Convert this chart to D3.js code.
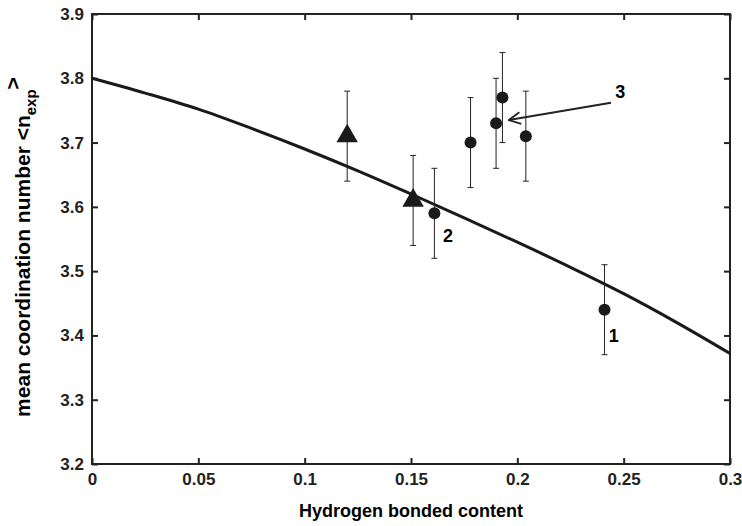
<!DOCTYPE html>
<html><head><meta charset="utf-8">
<script src="https://cdn.jsdelivr.net/npm/d3@7"></script>
<style>body{margin:0;background:#fff}text{font-family:"Liberation Sans",Arial,sans-serif;font-weight:bold}</style>
</head><body>
<svg id="c" width="742" height="526"></svg>
<script>
"use strict";
var xTicks = [0, 0.05, 0.1, 0.15, 0.2, 0.25, 0.3];
var yTicks = [3.2, 3.3, 3.4, 3.5, 3.6, 3.7, 3.8, 3.9];
var curveX = [0, 0.025, 0.05, 0.075, 0.1, 0.125, 0.15, 0.175, 0.2, 0.225, 0.25, 0.275, 0.3];
var curveY = [3.80, 3.777, 3.752, 3.722, 3.69, 3.656, 3.62, 3.583, 3.545, 3.506, 3.465, 3.42, 3.372];
var triX = [0.12, 0.151];
var triY = [3.71, 3.61];
var triErr = [0.07, 0.07];
var dotX = [0.161, 0.178, 0.19, 0.193, 0.204, 0.241];
var dotY = [3.59, 3.70, 3.73, 3.77, 3.71, 3.44];
var dotErr = [0.07, 0.07, 0.07, 0.07, 0.07, 0.07];
var labels = [{t: "1", x: 0.243, y: 3.39}, {t: "2", x: 0.165, y: 3.545}, {t: "3", x: 0.246, y: 3.77}];

var m = {l: 92, r: 12, t: 14, b: 62};
var svg = d3.select("#c");
var W = 742, H = 526;
var x = d3.scaleLinear().domain([0, 0.3]).range([m.l, W - m.r]);
var y = d3.scaleLinear().domain([3.2, 3.9]).range([H - m.b, m.t]);

svg.append("rect").attr("x", m.l).attr("y", m.t).attr("width", W - m.r - m.l).attr("height", H - m.b - m.t)
  .attr("fill", "none").attr("stroke", "#222").attr("stroke-width", 2);

var fmt = function(d) { return d === 0 ? "0" : String(+d.toFixed(2)); };
svg.append("g").attr("transform", "translate(0," + (H - m.b) + ")")
  .call(d3.axisBottom(x).tickValues(xTicks).tickFormat(fmt).tickSize(-6).tickPadding(9))
  .call(function(g) { g.select(".domain").remove(); });
svg.append("g").attr("transform", "translate(0," + m.t + ")")
  .call(d3.axisTop(x).tickValues(xTicks).tickFormat("").tickSize(-6))
  .call(function(g) { g.select(".domain").remove(); });
svg.append("g").attr("transform", "translate(" + m.l + ",0)")
  .call(d3.axisLeft(y).tickValues(yTicks).tickFormat(d3.format(".1f")).tickSize(-6).tickPadding(8))
  .call(function(g) { g.select(".domain").remove(); });
svg.append("g").attr("transform", "translate(" + (W - m.r) + ",0)")
  .call(d3.axisRight(y).tickValues(yTicks).tickFormat("").tickSize(-6))
  .call(function(g) { g.select(".domain").remove(); });
svg.selectAll(".tick line").attr("stroke", "#222").attr("stroke-width", 2);
svg.selectAll(".tick text").attr("font-size", 17).attr("fill", "#222");

svg.append("text").attr("x", (m.l + W - m.r) / 2).attr("y", 517).attr("text-anchor", "middle")
  .attr("font-size", 18).text("Hydrogen bonded content");
var yl = svg.append("text").attr("transform", "translate(30," + ((m.t + H - m.b) / 2 + 8) + ") rotate(-90)")
  .attr("text-anchor", "middle").attr("font-size", 21);
yl.append("tspan").text("mean coordination number <n");
yl.append("tspan").attr("font-size", 15).attr("dy", 6).text("exp");
yl.append("tspan").attr("dy", -16).text(">");

var line = d3.line().x(function(d, i) { return x(curveX[i]); }).y(function(d) { return y(d); }).curve(d3.curveMonotoneX);
svg.append("path").datum(curveY).attr("d", line).attr("fill", "none").attr("stroke", "#1a1a1a").attr("stroke-width", 3);

function errBars(xs, ys, es) {
  xs.forEach(function(v, i) {
    var g = svg.append("g").attr("stroke", "#222").attr("stroke-width", 1);
    g.append("line").attr("x1", x(v)).attr("x2", x(v)).attr("y1", y(ys[i] - es[i])).attr("y2", y(ys[i] + es[i]));
    [ys[i] - es[i], ys[i] + es[i]].forEach(function(e) {
      g.append("line").attr("x1", x(v) - 3).attr("x2", x(v) + 3).attr("y1", y(e)).attr("y2", y(e));
    });
  });
}
errBars(triX, triY, triErr);
errBars(dotX, dotY, dotErr);

svg.selectAll(".dot").data(dotX).enter().append("circle")
  .attr("cx", function(d) { return x(d); }).attr("cy", function(d, i) { return y(dotY[i]); })
  .attr("r", 6).attr("fill", "#1a1a1a");
svg.selectAll(".tri").data(triX).enter().append("path")
  .attr("d", d3.symbol().type(d3.symbolTriangle).size(200))
  .attr("transform", function(d, i) { return "translate(" + x(d) + "," + y(triY[i]) + ")"; })
  .attr("fill", "#1a1a1a");

labels.forEach(function(l) {
  svg.append("text").attr("x", x(l.x)).attr("y", y(l.y)).attr("font-size", 18).text(l.t);
});

svg.append("defs").append("marker").attr("id", "ah").attr("viewBox", "0 0 12 12").attr("refX", 11).attr("refY", 6)
  .attr("markerWidth", 14).attr("markerHeight", 14).attr("markerUnits", "userSpaceOnUse").attr("orient", "auto")
  .append("path").attr("d", "M1,1 L11,6 L1,11").attr("fill", "none").attr("stroke", "#222").attr("stroke-width", 1.6);
svg.append("line").attr("x1", x(0.244)).attr("y1", y(3.762)).attr("x2", x(0.196)).attr("y2", y(3.735))
  .attr("stroke", "#222").attr("stroke-width", 2).attr("marker-end", "url(#ah)");
</script>
</body></html>
